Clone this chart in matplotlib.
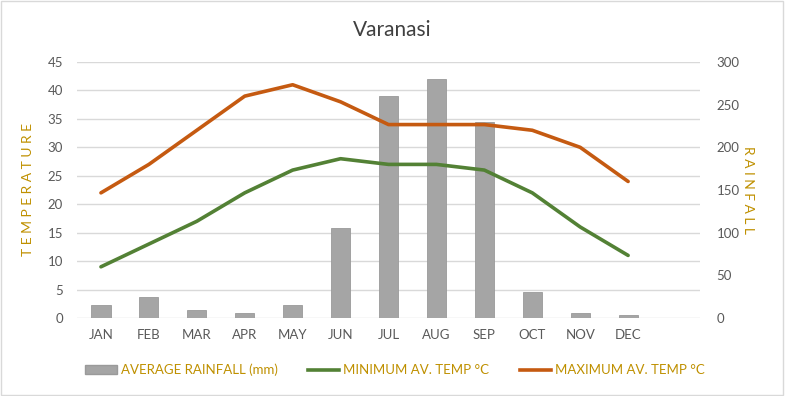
import matplotlib
matplotlib.use("Agg")
import matplotlib.pyplot as plt
from matplotlib.patches import Rectangle, Patch
from matplotlib.lines import Line2D

months = ["JAN", "FEB", "MAR", "APR", "MAY", "JUN", "JUL", "AUG", "SEP", "OCT", "NOV", "DEC"]
rainfall = [15, 25, 9, 6, 15, 105, 260, 280, 230, 30, 6, 3]
min_temp = [9, 13, 17, 22, 26, 28, 27, 27, 26, 22, 16, 11]
max_temp = [22, 27, 33, 39, 41, 38, 34, 34, 34, 33, 30, 24]
temp_ticks = list(range(0, 50, 5))
rain_ticks = list(range(0, 350, 50))

plt.rcParams['font.family'] = ['Lato', 'DejaVu Sans']

fig = plt.figure(figsize=(7.85, 3.96), dpi=100)
fig.patch.set_facecolor("white")
fig.add_artist(Rectangle((0.001, 0.002), 0.997, 0.995, transform=fig.transFigure,
                         fill=False, edgecolor="#D9D9D9", linewidth=1))

ax = fig.add_axes([77/785, 1-318/396, 623/785, 256/396])
ax2 = ax.twinx()

x = list(range(len(months)))
gold = "#BF9000"
tick_col = "#595959"

ax2.bar(x, rainfall, width=0.4, color="#A5A5A5", edgecolor="#9A9A9A", linewidth=0.6, zorder=2)
ax.set_zorder(ax2.get_zorder() + 1)
ax.patch.set_visible(False)
ax.plot(x, min_temp, color="#538135", linewidth=2.6, solid_capstyle="round", zorder=3)
ax.plot(x, max_temp, color="#C55A11", linewidth=2.6, solid_capstyle="round", zorder=3)

ax.set_xlim(-0.5, 12.5)
ax.set_ylim(0, 45)
ax2.set_ylim(0, 300)
ax.set_yticks(temp_ticks)
ax2.set_yticks(rain_ticks)
ax.set_xticks(x)
ax.set_xticklabels(months)
for a in (ax, ax2):
    for s in a.spines.values():
        s.set_visible(False)
    a.tick_params(length=0, labelsize=9.5, labelcolor=tick_col)
ax.tick_params(axis="y", pad=10)
ax.tick_params(axis="x", pad=8)
ax2.tick_params(axis="y", pad=12)

for t in temp_ticks:
    ax2.axhline(t * 300 / 45, color="#D9D9D9", linewidth=1, zorder=0)
ax.grid(False)
ax2.grid(False)

ax.set_ylabel("T E M P E R A T U R E", color=gold, fontsize=10, labelpad=10)
ax2.set_ylabel("R A I N F A L L", color=gold, fontsize=10, rotation=-90, labelpad=10)

fig.text(392/785, 1-30/396, "Varanasi", ha="center", va="center", fontsize=15, color="#404040")

handles = [Patch(facecolor="#A5A5A5", edgecolor="#9A9A9A"),
           Line2D([], [], color="#538135", linewidth=2.6),
           Line2D([], [], color="#C55A11", linewidth=2.6)]
labels = ["AVERAGE RAINFALL (mm)", "MINIMUM AV. TEMP °C", "MAXIMUM AV. TEMP °C"]
leg = fig.legend(handles, labels, loc="center", bbox_to_anchor=(395/785, 1-370/396), ncol=3,
                 frameon=False, fontsize=9.5, handlelength=2.4, columnspacing=2.3, handletextpad=0.3)
for t in leg.get_texts():
    t.set_color(gold)

fig.savefig("out.png", dpi=100)
